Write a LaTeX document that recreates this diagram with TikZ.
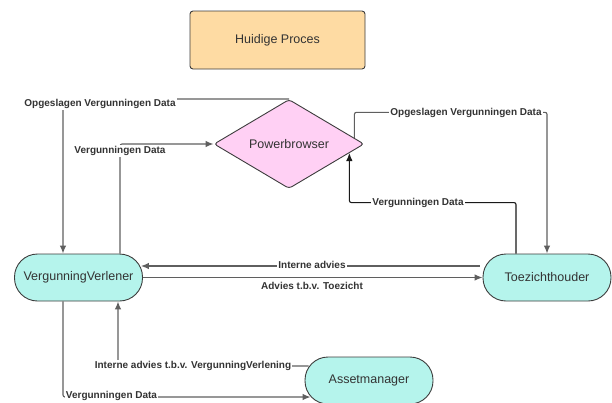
\documentclass[tikz,border=0pt]{standalone}
\usepackage{fontspec}
\setmainfont{Liberation Sans}
\usepackage{tikz}
\usetikzlibrary{positioning,shapes,arrows.meta,calc}

\definecolor{procfill}{HTML}{FEDBA3}
\definecolor{pbfill}{HTML}{FFD0F4}
\definecolor{actorfill}{HTML}{B5F4EC}
\definecolor{edgegray}{HTML}{3C3C3C}
\definecolor{linegray}{HTML}{5F5F5F}
\definecolor{textgray}{HTML}{333333}

\begin{document}
\begin{tikzpicture}[x=1pt,y=1pt]
\tikzstyle{every node}+=[text=textgray]
\tikzstyle{box}=[draw=edgegray, line width=0.9pt, font=\fontsize{12.5}{15}\selectfont]
\tikzstyle{titlebox}=[box, rectangle, rounded corners=3pt, fill=procfill, minimum width=175pt, minimum height=58pt]
\tikzstyle{pbdiamond}=[box, diamond, rounded corners=3pt, fill=pbfill, minimum width=150pt, minimum height=80pt, inner sep=0pt]
\tikzstyle{actor}=[box, rectangle, rounded corners=23pt, fill=actorfill, minimum width=128pt, minimum height=47pt]
\tikzstyle{conn}=[draw=linegray, line width=1.1pt, rounded corners=2pt, -{Latex[length=8pt,width=6.5pt]}]
\tikzstyle{lbl}=[fill=white, inner sep=1pt, font=\bfseries\fontsize{10}{12}\selectfont]
\useasboundingbox (0,0) rectangle (612,-402);
% nodes
\node [titlebox] (proces) at (277.5,-40) {Huidige Proces};
\node [pbdiamond] (pb) at (289,-144) {Powerbrowser};
\node [actor] (vv) at (78.5,-277.5) {VergunningVerlener};
\node [actor] (tz) at (547,-277.5) {Toezichthouder};
\node [actor] (am) at (369,-380.5) {Assetmanager};
% connectors
\draw [conn] (pb.north) -| ([xshift=-15.5pt]vv.north);
\node [lbl] (l1) at (100,-104) {Opgeslagen Vergunningen Data};
\draw [conn] ([xshift=41.5pt]vv.north) |- (pb.west);
\node [lbl] (l2) at (120,-151) {Vergunningen Data};
\draw [conn] ($(pb.north)!0.867!(pb.east)$) -- ++(0,25.7) -| (tz.north);
\node [lbl] (l3) at (466,-113) {Opgeslagen Vergunningen Data};
\draw [conn, draw=black!90] ([xshift=-31pt]tz.north) -- ++(0,51) -| ($(pb.east)!0.2!(pb.south)$);
\node [lbl] (l4) at (418,-203) {Vergunningen Data};
\draw [conn] ([yshift=11.5pt,xshift=-3pt]tz.west) -- ([yshift=11.5pt,xshift=-2pt]vv.east);
\node [lbl] (l5) at (312,-265) {Interne advies};
\draw [conn] (vv.east) -- (tz.west);
\node [lbl] (l6) at (312,-285.5) {Advies t.b.v. Toezicht};
\draw [conn] ([yshift=14.5pt,xshift=4pt]am.west) -| ([xshift=39.5pt]vv.south);
\node [lbl] (l7) at (193,-366) {Interne advies t.b.v. VergunningVerlening};
\draw [conn] ([xshift=-15.5pt]vv.south) |- ([yshift=-16.5pt,xshift=6pt]am.west);
\node [lbl] (l8) at (111.5,-396) {Vergunningen Data};
\end{tikzpicture}
\end{document}
